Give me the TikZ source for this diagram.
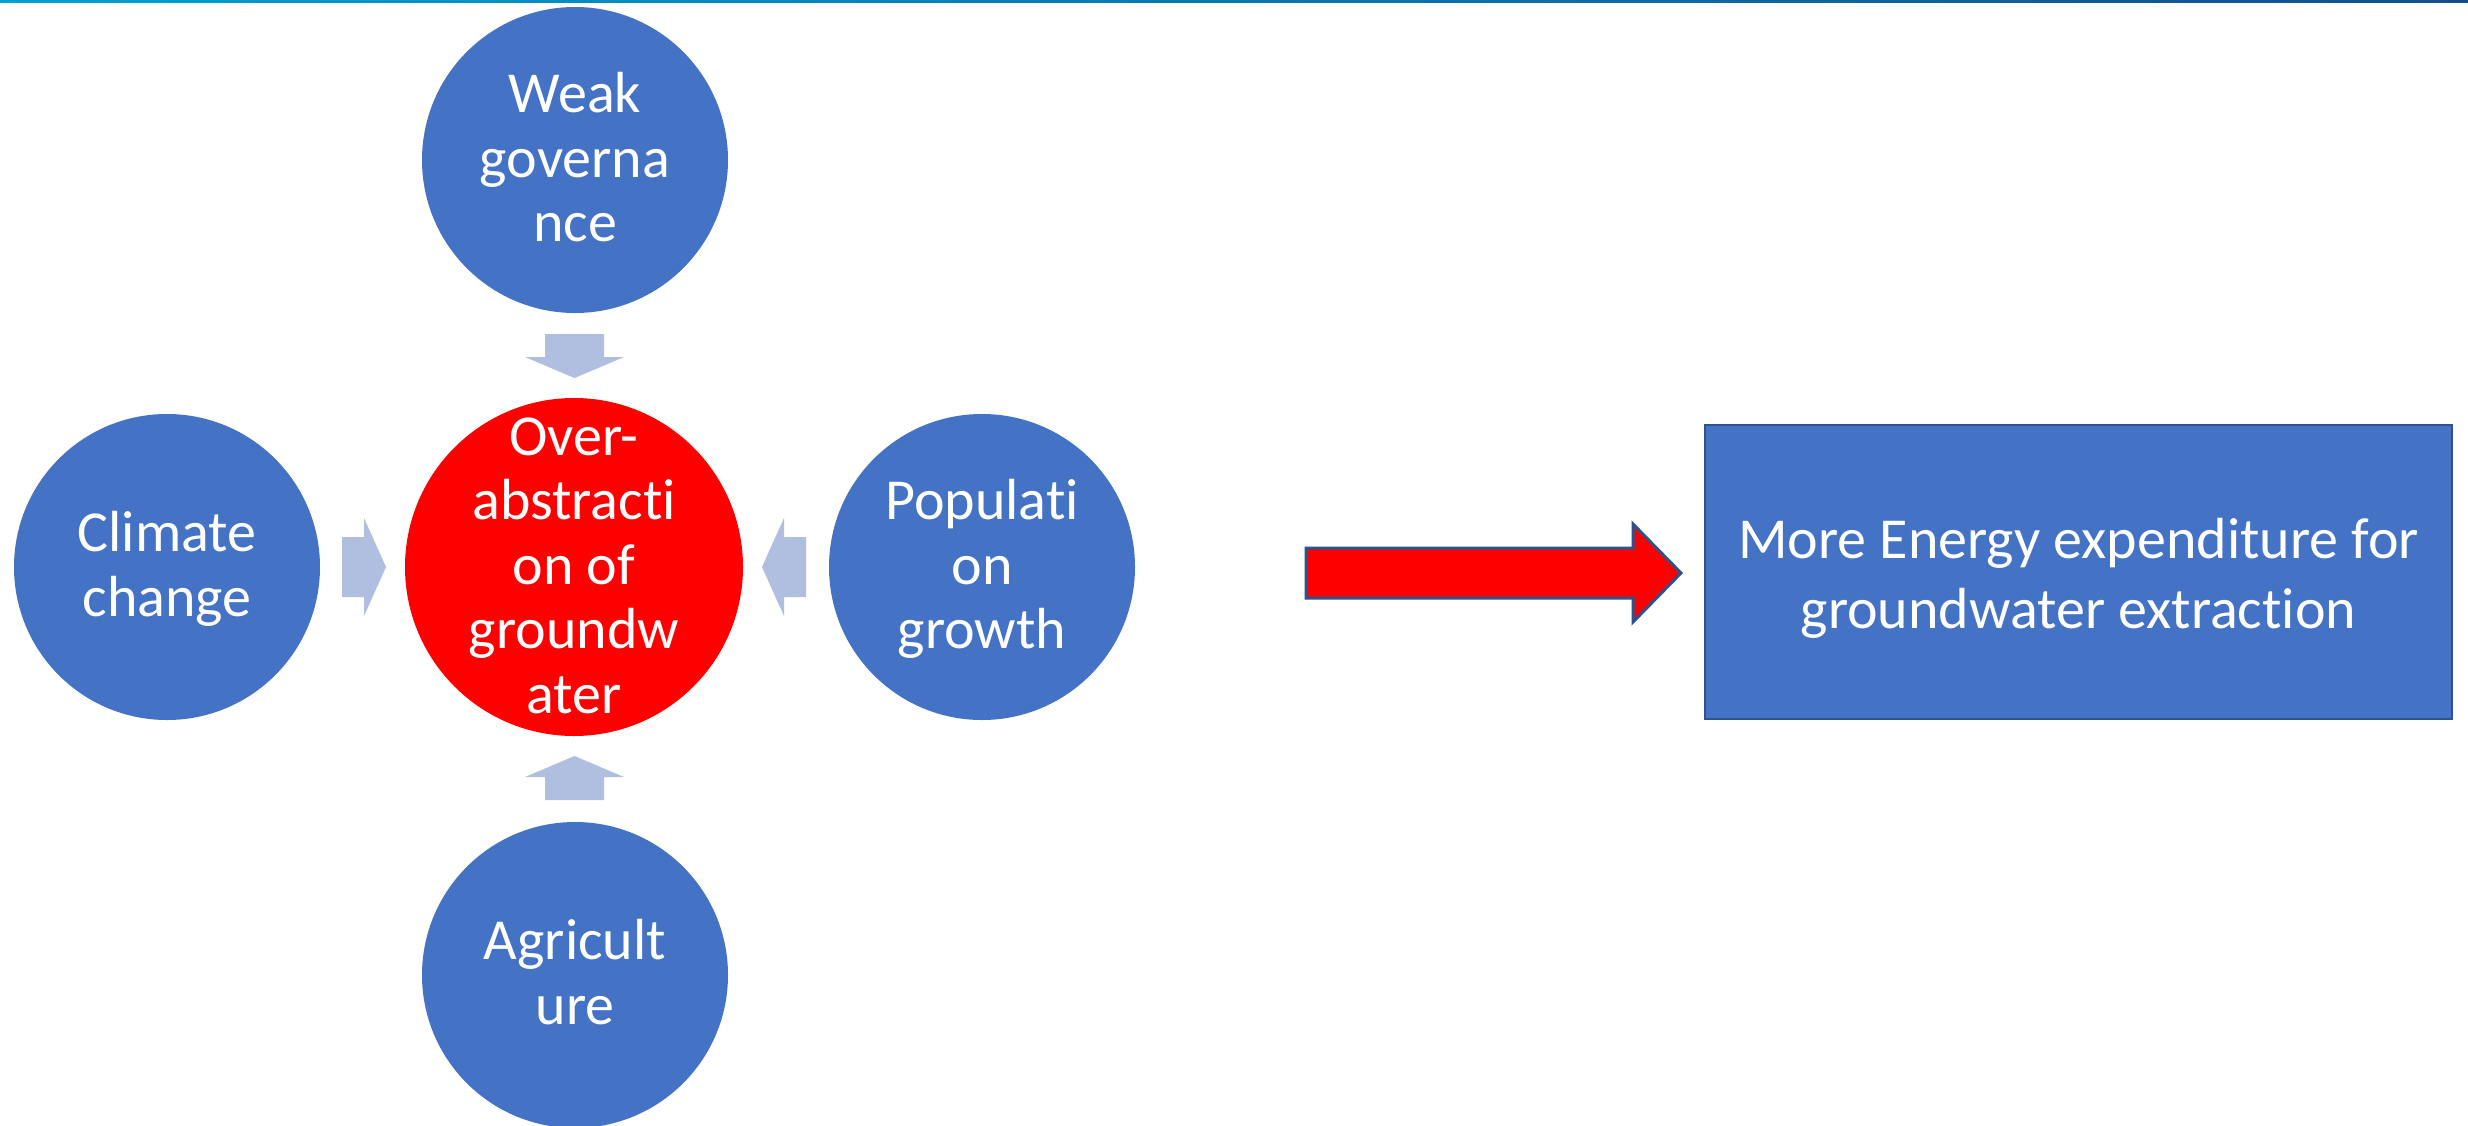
\documentclass[tikz,border=0pt]{standalone}
\usepackage{fontspec}
\setmainfont{Carlito}[RawFeature={-liga;-clig;-calt;-dlig}]
\definecolor{accblue}{HTML}{4472C4}
\definecolor{darkedge}{HTML}{2F528F}
\definecolor{lightarrow}{RGB}{176,190,224}
\definecolor{lineL}{RGB}{0,160,210}
\definecolor{lineR}{RGB}{20,78,138}
\newcommand{\cst}{\rule[-13pt]{0pt}{60pt}}
\newcommand{\rst}{\rule[-14pt]{0pt}{70pt}}
\begin{document}
\begin{tikzpicture}[x=1pt,y=-1pt,
  bcirc/.style={circle, fill=accblue, draw=none, minimum size=306pt, inner sep=0pt},
  rcirc/.style={circle, fill=red, draw=none, minimum size=338pt, inner sep=0pt},
  ctext/.style={text=white, align=center, inner sep=0pt, font=\fontsize{58}{64.5}\selectfont},
  blockarrow/.style={fill=lightarrow, draw=none},
  bigarrow/.style={fill=red, draw=darkedge, line width=3pt, line join=miter},
  resultbox/.style={rectangle, fill=accblue, draw=darkedge, line width=2pt,
    minimum width=747pt, minimum height=294pt, inner sep=0pt,
    text=white, align=center, font=\fontsize{58}{70}\selectfont}]
\useasboundingbox (0,0) rectangle (2468,1125);
\fill[white] (0,0) rectangle (2468,1125);
\shade[left color=lineL, right color=lineR] (0,0) rectangle (2468,2.5);

% circles
\node[bcirc] (gov) at (575,160) {};
\node[bcirc] (clim) at (167,567) {};
\node[rcirc] (over) at (574,567) {};
\node[bcirc] (pop) at (982,567) {};
\node[bcirc] (agri) at (575,975) {};

% circle texts
\node[ctext] (govt) at (gov) {\cst Weak\\ \cst governa\\ \cst nce};
\node[ctext] (climt) at (clim) {\cst Climate\\ \cst change};
\node[ctext] (overt) at (over) {\cst Over-\\ \cst abstracti\\ \cst on of\\ \cst groundw\\ \cst ater};
\node[ctext] (popt) at (pop) {\cst Populati\\ \cst on\\ \cst growth};
\node[ctext] (agrit) at (agri) {\cst Agricult\\ \cst ure};

% small block arrows
\fill[blockarrow] (545,334) -- (604,334) -- (604,357) -- (624,357) -- (574.5,378) -- (525,357) -- (545,357) -- cycle;
\fill[blockarrow] (545,800) -- (604,800) -- (604,777) -- (624,777) -- (574.5,756) -- (525,777) -- (545,777) -- cycle;
\fill[blockarrow] (342,537) -- (364,537) -- (364,518) -- (386,567) -- (364,616) -- (364,597) -- (342,597) -- cycle;
\fill[blockarrow] (806,537) -- (784,537) -- (784,518) -- (762,567) -- (784,616) -- (784,597) -- (806,597) -- cycle;

% big red arrow
\filldraw[bigarrow] (1306,548) -- (1633,548) -- (1633,524) -- (1681,573) -- (1633,622) -- (1633,598) -- (1306,598) -- cycle;

% result box
\node[resultbox] (energy) at (2078.5,572) {\rst More Energy expenditure for\\ \rst groundwater extraction};
\end{tikzpicture}
\end{document}
